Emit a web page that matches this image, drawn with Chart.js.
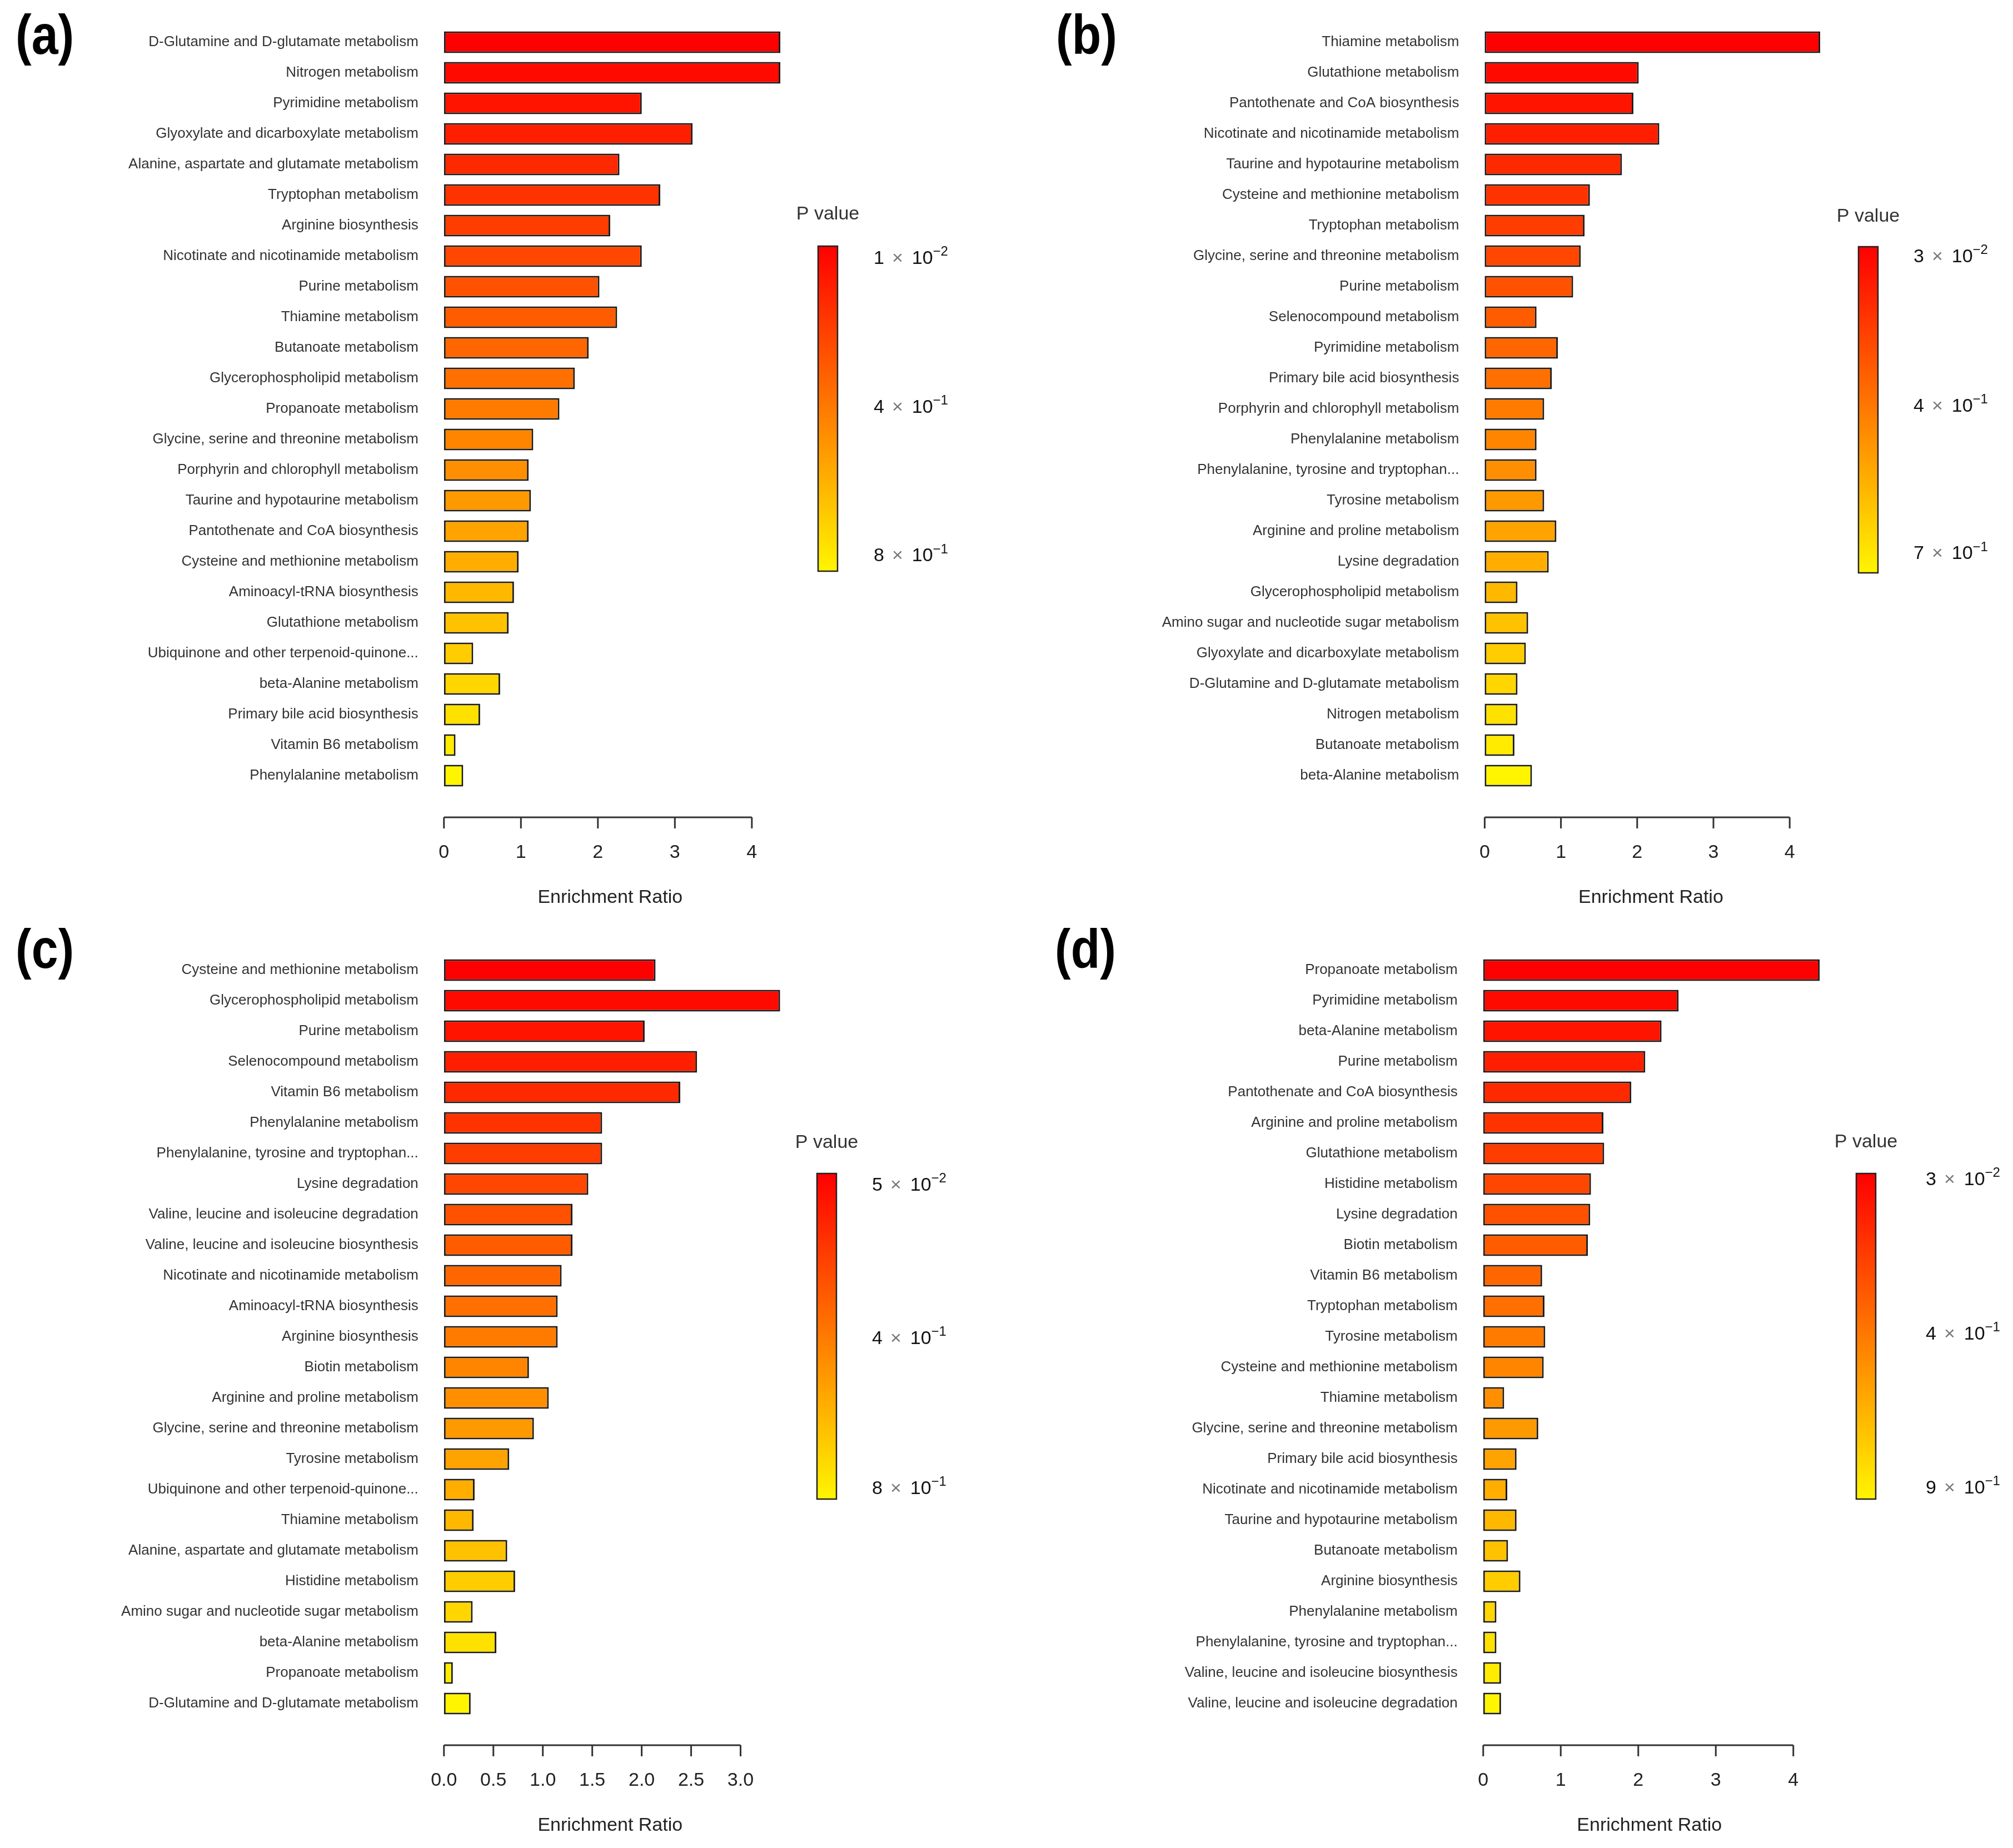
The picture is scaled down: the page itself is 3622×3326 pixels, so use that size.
<!DOCTYPE html>
<html>
<head>
<meta charset="utf-8">
<script src="https://cdn.jsdelivr.net/npm/chart.js@4.4.1/dist/chart.umd.min.js"></script>
<style>
  html, body { margin: 0; padding: 0; background: #fff; }
  #wrap { position: relative; width: 3622px; height: 3326px; }
  canvas { position: absolute; }
</style>
</head>
<body>
<div id="wrap">
  <canvas id="chartA" width="1870" height="1670" style="left:0px;top:0px"></canvas>
  <canvas id="chartB" width="1750" height="1670" style="left:1872px;top:0px"></canvas>
  <canvas id="chartC" width="1870" height="1656" style="left:0px;top:1670px"></canvas>
  <canvas id="chartD" width="1752" height="1656" style="left:1870px;top:1670px"></canvas>
</div>
<script>
// (a)
const labelsA = [
  "D-Glutamine and D-glutamate metabolism", "Nitrogen metabolism", "Pyrimidine metabolism",
  "Glyoxylate and dicarboxylate metabolism", "Alanine, aspartate and glutamate metabolism",
  "Tryptophan metabolism", "Arginine biosynthesis", "Nicotinate and nicotinamide metabolism",
  "Purine metabolism", "Thiamine metabolism", "Butanoate metabolism", "Glycerophospholipid metabolism",
  "Propanoate metabolism", "Glycine, serine and threonine metabolism", "Porphyrin and chlorophyll metabolism",
  "Taurine and hypotaurine metabolism", "Pantothenate and CoA biosynthesis", "Cysteine and methionine metabolism",
  "Aminoacyl-tRNA biosynthesis", "Glutathione metabolism", "Ubiquinone and other terpenoid-quinone...",
  "beta-Alanine metabolism", "Primary bile acid biosynthesis", "Vitamin B6 metabolism", "Phenylalanine metabolism"
];
const valuesA = [4.37, 4.37, 2.57, 3.23, 2.28, 2.81, 2.16, 2.57, 2.02, 2.25, 1.88, 1.70, 1.50,
  1.16, 1.10, 1.13, 1.10, 0.97, 0.91, 0.84, 0.38, 0.73, 0.47, 0.15, 0.25];
const ticksA = [0, 1, 2, 3, 4];
const pMantA = ["1", "4", "8"];
const pExpA = ["\u22122", "\u22121", "\u22121"];

// (b)
const labelsB = [
  "Thiamine metabolism", "Glutathione metabolism", "Pantothenate and CoA biosynthesis",
  "Nicotinate and nicotinamide metabolism", "Taurine and hypotaurine metabolism",
  "Cysteine and methionine metabolism", "Tryptophan metabolism", "Glycine, serine and threonine metabolism",
  "Purine metabolism", "Selenocompound metabolism", "Pyrimidine metabolism", "Primary bile acid biosynthesis",
  "Porphyrin and chlorophyll metabolism", "Phenylalanine metabolism", "Phenylalanine, tyrosine and tryptophan...",
  "Tyrosine metabolism", "Arginine and proline metabolism", "Lysine degradation", "Glycerophospholipid metabolism",
  "Amino sugar and nucleotide sugar metabolism", "Glyoxylate and dicarboxylate metabolism",
  "D-Glutamine and D-glutamate metabolism", "Nitrogen metabolism", "Butanoate metabolism", "beta-Alanine metabolism"
];
const valuesB = [4.40, 2.02, 1.95, 2.29, 1.80, 1.38, 1.31, 1.26, 1.16, 0.68, 0.96, 0.88, 0.78,
  0.68, 0.68, 0.78, 0.94, 0.84, 0.43, 0.57, 0.54, 0.43, 0.43, 0.39, 0.62];
const ticksB = [0, 1, 2, 3, 4];
const pMantB = ["3", "4", "7"];
const pExpB = ["\u22122", "\u22121", "\u22121"];

// (c)
const labelsC = [
  "Cysteine and methionine metabolism", "Glycerophospholipid metabolism", "Purine metabolism",
  "Selenocompound metabolism", "Vitamin B6 metabolism", "Phenylalanine metabolism",
  "Phenylalanine, tyrosine and tryptophan...", "Lysine degradation", "Valine, leucine and isoleucine degradation",
  "Valine, leucine and isoleucine biosynthesis", "Nicotinate and nicotinamide metabolism",
  "Aminoacyl-tRNA biosynthesis", "Arginine biosynthesis", "Biotin metabolism", "Arginine and proline metabolism",
  "Glycine, serine and threonine metabolism", "Tyrosine metabolism", "Ubiquinone and other terpenoid-quinone...",
  "Thiamine metabolism", "Alanine, aspartate and glutamate metabolism", "Histidine metabolism",
  "Amino sugar and nucleotide sugar metabolism", "beta-Alanine metabolism", "Propanoate metabolism",
  "D-Glutamine and D-glutamate metabolism"
];
const valuesC = [2.14, 3.40, 2.03, 2.56, 2.39, 1.60, 1.60, 1.46, 1.30, 1.30, 1.19, 1.15, 1.15,
  0.86, 1.06, 0.91, 0.66, 0.31, 0.30, 0.64, 0.72, 0.29, 0.53, 0.09, 0.27];
const ticksC = [0, 0.5, 1, 1.5, 2, 2.5, 3];
const pMantC = ["5", "4", "8"];
const pExpC = ["\u22122", "\u22121", "\u22121"];

// (d)
const labelsD = [
  "Propanoate metabolism", "Pyrimidine metabolism", "beta-Alanine metabolism", "Purine metabolism",
  "Pantothenate and CoA biosynthesis", "Arginine and proline metabolism", "Glutathione metabolism",
  "Histidine metabolism", "Lysine degradation", "Biotin metabolism", "Vitamin B6 metabolism",
  "Tryptophan metabolism", "Tyrosine metabolism", "Cysteine and methionine metabolism", "Thiamine metabolism",
  "Glycine, serine and threonine metabolism", "Primary bile acid biosynthesis",
  "Nicotinate and nicotinamide metabolism", "Taurine and hypotaurine metabolism", "Butanoate metabolism",
  "Arginine biosynthesis", "Phenylalanine metabolism", "Phenylalanine, tyrosine and tryptophan...",
  "Valine, leucine and isoleucine biosynthesis", "Valine, leucine and isoleucine degradation"
];
const valuesD = [4.34, 2.52, 2.30, 2.09, 1.91, 1.55, 1.56, 1.39, 1.38, 1.35, 0.76, 0.79, 0.80,
  0.78, 0.27, 0.71, 0.43, 0.31, 0.43, 0.32, 0.48, 0.17, 0.17, 0.23, 0.23];
const ticksD = [0, 1, 2, 3, 4];
const pMantD = ["3", "4", "9"];
const pExpD = ["\u22122", "\u22121", "\u22121"];

const FONT = '"Liberation Sans", Arial, sans-serif';
Chart.defaults.font.family = FONT;

// red -> orange -> yellow, like R heat.colors
function heat(i, n) {
  const g = Math.round(245 * i / (n - 1));
  return 'rgb(255,' + g + ',0)';
}

const decor = {
  id: 'decor',
  afterDraw(chart, args, o) {
    const ctx = chart.ctx;
    const xs = chart.scales.x;
    const area = chart.chartArea;
    const px = xs.ticks.map(t => xs.getPixelForValue(t.value));
    const ay = area.bottom + 47.5;
    ctx.save();

    // R style axis: line only between first and last tick
    ctx.strokeStyle = '#333';
    ctx.lineWidth = 3;
    ctx.beginPath();
    ctx.moveTo(px[0], ay);
    ctx.lineTo(px[px.length - 1], ay);
    px.forEach(p => { ctx.moveTo(p, ay); ctx.lineTo(p, ay + 20); });
    ctx.stroke();

    // colour key
    const top = o.barTop, bot = o.barBottom;
    const grad = ctx.createLinearGradient(0, top, 0, bot);
    grad.addColorStop(0, 'rgb(255,0,0)');
    grad.addColorStop(0.5, 'rgb(255,122,0)');
    grad.addColorStop(1, 'rgb(255,245,0)');
    ctx.fillStyle = grad;
    ctx.fillRect(o.barX, top, 35, bot - top);
    ctx.lineWidth = 2.5;
    ctx.strokeStyle = '#222';
    ctx.strokeRect(o.barX, top, 35, bot - top);

    ctx.fillStyle = '#333';
    ctx.font = '34px ' + FONT;
    ctx.textAlign = 'center';
    ctx.textBaseline = 'middle';
    ctx.fillText('P value', o.barX + 17.5, o.titleY);

    ctx.textAlign = 'left';
    o.mant.forEach((m, i) => {
      const y = top + o.pos[i] * (bot - top);
      let x = o.labelX;
      ctx.font = '34px ' + FONT;
      ctx.fillStyle = '#111';
      ctx.fillText(m, x, y);
      x += ctx.measureText(m).width + 14;
      ctx.fillStyle = '#777';
      ctx.fillText('\u00d7', x, y);
      x += ctx.measureText('\u00d7').width + 16;
      ctx.fillStyle = '#111';
      ctx.fillText('10', x, y);
      x += ctx.measureText('10').width;
      ctx.font = '24px ' + FONT;
      ctx.fillText(o.exp[i], x, y - 12);
    });

    // panel letter, condensed bold
    ctx.fillStyle = '#000';
    ctx.font = 'bold 100px ' + FONT;
    ctx.textBaseline = 'alphabetic';
    ctx.translate(28, o.letterY);
    ctx.scale(0.86, 1);
    ctx.fillText(o.letter, 0, 0);
    ctx.restore();
  }
};

function makeChart(id, labels, values, ticks, oneDecimal, p) {
  const n = values.length;
  return new Chart(document.getElementById(id), {
    type: 'bar',
    data: {
      labels: labels,
      datasets: [{
        data: values,
        backgroundColor: values.map((v, i) => heat(i, n)),
        borderColor: '#1a1a1a',
        borderWidth: 3,
        borderSkipped: false,
        barPercentage: 0.71,
        categoryPercentage: 1,
        clip: false
      }]
    },
    options: {
      indexAxis: 'y',
      responsive: false,
      animation: false,
      devicePixelRatio: 1,
      layout: { padding: { top: 48.5, left: 0, right: p.cw - (p.zero + 622), bottom: p.ch - 1636.5 } },
      plugins: { legend: { display: false }, tooltip: { enabled: false }, decor: p },
      scales: {
        x: {
          type: 'linear',
          min: -24 / p.unit,
          max: 622 / p.unit,
          afterBuildTicks: s => { s.ticks = ticks.map(v => ({ value: v })); },
          afterFit: s => { s.height = 213; },
          grid: { display: false, drawTicks: false },
          border: { display: false },
          ticks: {
            padding: 91,
            autoSkip: false,
            maxRotation: 0,
            color: '#222',
            font: { size: 34 },
            callback: v => oneDecimal ? v.toFixed(1) : String(v)
          },
          title: { display: true, text: 'Enrichment Ratio', color: '#222', font: { size: 34 }, padding: 0 }
        },
        y: {
          afterFit: s => { s.width = p.zero - 24; },
          grid: { display: false, drawTicks: false },
          border: { display: false },
          ticks: { padding: 22, autoSkip: false, color: '#333', font: { size: 26 } }
        }
      }
    },
    plugins: [decor]
  });
}

makeChart('chartA', labelsA, valuesA, ticksA, false, {
  zero: 798.8, unit: 138.5, cw: 1870, ch: 1670, letter: '(a)', letterY: 97,
  barX: 1472, barTop: 443, barBottom: 1028, titleY: 386, labelX: 1572,
  pos: [0.039, 0.496, 0.954], mant: pMantA, exp: pExpA
});
makeChart('chartB', labelsB, valuesB, ticksB, false, {
  zero: 799.4, unit: 137.2, cw: 1750, ch: 1670, letter: '(b)', letterY: 97,
  barX: 1472, barTop: 444, barBottom: 1031, titleY: 390, labelX: 1571,
  pos: [0.031, 0.49, 0.942], mant: pMantB, exp: pExpB
});
makeChart('chartC', labelsC, valuesC, ticksC, true, {
  zero: 798.8, unit: 177.9, cw: 1870, ch: 1656, letter: '(c)', letterY: 72,
  barX: 1470, barTop: 442, barBottom: 1028, titleY: 387, labelX: 1569,
  pos: [0.037, 0.508, 0.969], mant: pMantC, exp: pExpC
});
makeChart('chartD', labelsD, valuesD, ticksD, false, {
  zero: 798.75, unit: 139.5, cw: 1752, ch: 1656, letter: '(d)', letterY: 72,
  barX: 1470, barTop: 442, barBottom: 1028, titleY: 386, labelX: 1595,
  pos: [0.02, 0.494, 0.967], mant: pMantD, exp: pExpD
});
</script>
</body>
</html>
